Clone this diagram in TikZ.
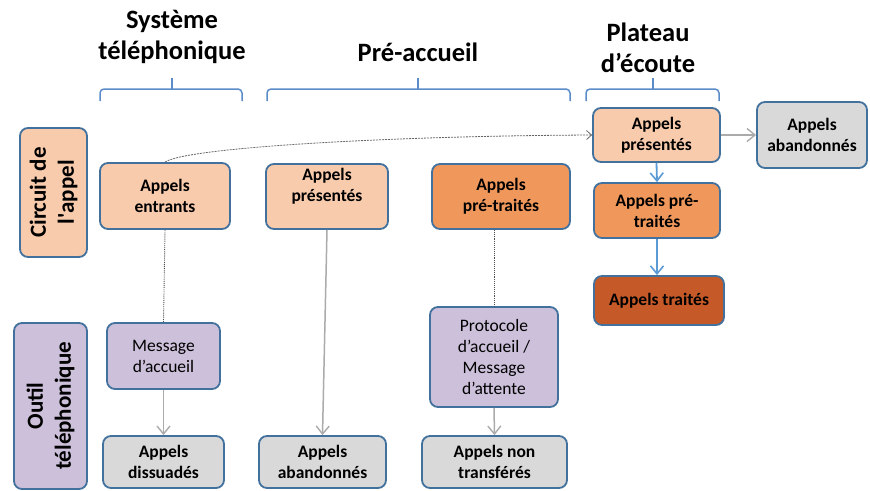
\documentclass[tikz,border=0pt]{standalone}
\usepackage{fontspec}
\setmainfont{Carlito}
\usetikzlibrary{arrows.meta}
\definecolor{bord}{HTML}{41719C}
\definecolor{peach}{HTML}{F8CBAD}
\definecolor{orangemid}{HTML}{F0985C}
\definecolor{orangedark}{HTML}{C55A28}
\definecolor{lav}{HTML}{CCC0DA}
\definecolor{grayfill}{HTML}{D9D9D9}
\definecolor{bluearr}{HTML}{5B9BD5}
\definecolor{grayarr}{HTML}{ABABAB}
\definecolor{bracecol}{HTML}{5B8CC8}
\tikzset{
  boxbase/.style={draw=bord, line width=1.8pt, rounded corners=8pt, align=center, inner sep=2pt,
    font=\fontsize{17.5}{21}\selectfont\bfseries},
  peachbox/.style={boxbase, fill=peach},
  midbox/.style={boxbase, fill=orangemid},
  darkbox/.style={boxbase, fill=orangedark},
  lavbox/.style={boxbase, fill=lav, font=\fontsize{17.5}{21}\selectfont},
  graybox/.style={boxbase, fill=grayfill},
  sidebox/.style={boxbase, rotate=90, font=\fontsize{23}{28}\selectfont\bfseries},
  header/.style={align=center, font=\fontsize{26.5}{31}\selectfont\bfseries},
  bracepath/.style={draw=bracecol, line width=1.5pt, rounded corners=4pt},
  grayarrow/.style={draw=grayarr, line width=1.5pt, -{Straight Barb[length=8pt,width=13pt,line width=1.4pt]}},
  bluearrow/.style={draw=bluearr, line width=1.8pt, -{Straight Barb[length=8pt,width=13pt,line width=1.6pt]}},
  dotline/.style={draw=black!70, line width=0.9pt, densely dotted},
  dashcurve/.style={draw=black!60, line width=0.8pt, dash pattern=on 2pt off 1pt, -{Straight Barb[length=5pt,width=9pt]}}
}
\begin{document}
\begin{tikzpicture}[x=1pt,y=-1pt]
\useasboundingbox (0,0) rectangle (870,490);

% headers
\node[header] (h1) at (172,37) {Système\\téléphonique};
\node[header] (h2) at (418,52) {Pré-accueil};
\node[header] (h3) at (648,48) {Plateau\\d’écoute};

% braces
\coordinate (b1l) at (100,101); \coordinate (b1m) at (172,89); \coordinate (b1r) at (242,101);
\coordinate (b2l) at (267,101); \coordinate (b2m) at (418,89); \coordinate (b2r) at (570,101);
\coordinate (b3l) at (586,101); \coordinate (b3m) at (653,89); \coordinate (b3r) at (719,101);
\foreach \b in {b1,b2,b3}{
  \draw[bracepath] (\b l) |- (\b m) -| (\b r);
  \draw[draw=bracecol, line width=1.5pt] (\b m) -- ++(0,-11);
}

% side labels
\node[sidebox, fill=peach, minimum width=129pt, minimum height=67pt] (circ) at (53.5,192.5) {Circuit de\\l\textquotesingle appel};
\node[sidebox, fill=lav, minimum width=166pt, minimum height=73pt] (outil) at (50.5,406) {Outil\\téléphonique};

% boxes
\node[peachbox, minimum width=130pt, minimum height=66pt] (entr) at (165,196) {Appels\\entrants};
\node[peachbox, minimum width=122pt, minimum height=65pt, text depth=24pt] (pres1) at (327,196.5) {Appels\\présentés};
\node[midbox, minimum width=138pt, minimum height=65pt] (pret1) at (501,196.5) {Appels\\pré-traités};
\node[peachbox, minimum width=127pt, minimum height=54pt] (pres2) at (656.5,135) {Appels\\présentés};
\node[graybox, minimum width=110pt, minimum height=66pt] (aband2) at (812,135) {Appels\\abandonnés};
\node[midbox, minimum width=126pt, minimum height=55pt] (pret2) at (657,210.5) {Appels pré-\\traités};
\node[darkbox, minimum width=130pt, minimum height=49pt] (trait) at (659,300.5) {Appels traités};
\node[lavbox, minimum width=113pt, minimum height=66pt] (msg) at (163.5,356) {Message\\d’accueil};
\node[lavbox, minimum width=128pt, minimum height=100pt] (proto) at (494,357) {Protocole\\d’accueil /\\Message\\d’attente};
\node[graybox, minimum width=121pt, minimum height=52pt] (diss) at (163.5,462) {Appels\\dissuadés};
\node[graybox, minimum width=127pt, minimum height=52pt] (aband1) at (322.5,462) {Appels\\abandonnés};
\node[graybox, minimum width=145pt, minimum height=52pt] (nontr) at (494.5,462) {Appels non\\transférés};

% connectors
\draw[dashcurve] (entr.north) .. controls (185,148) and (380,136) .. (pres2.west);
\draw[dotline] (entr.south) -- (msg.north);
\draw[dotline] (proto.north |- pret1.south) -- (proto.north);
\draw[grayarrow] (msg.south) -- (diss.north);
\draw[grayarrow] (pres1.south) -- (aband1.north);
\draw[grayarrow] (proto.south) -- (nontr.north);
\draw[grayarrow] (pres2.east) -- (aband2.west);
\draw[bluearrow] (pres2.south) -- (pret2.north);
\draw[bluearrow] (pret2.south) -- (trait.north -| pret2.south);
\end{tikzpicture}
\end{document}
